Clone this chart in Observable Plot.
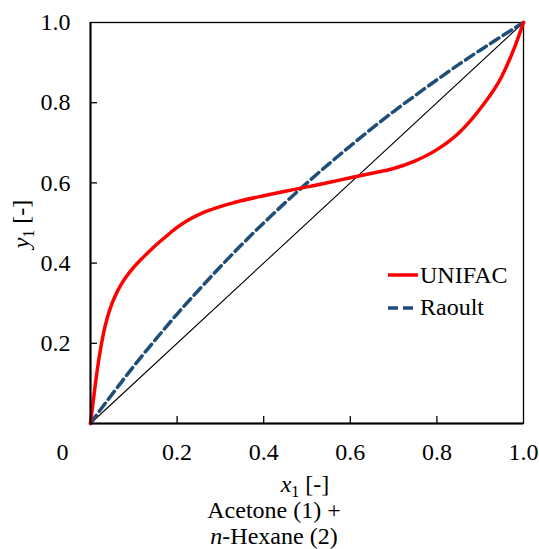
<!DOCTYPE html>
<html><head><meta charset="utf-8">
<script src="https://cdn.jsdelivr.net/npm/d3@7"></script>
<script src="https://cdn.jsdelivr.net/npm/@observablehq/plot@0.6"></script>
<style>
body{margin:0;background:#fff;}
#wrap{position:relative;width:539px;height:549px;}
</style></head><body><div id="wrap"></div>
<script>
const xTicks = [0.2, 0.4, 0.6, 0.8, 1.0];
const yTicks = [0.2, 0.4, 0.6, 0.8, 1.0];
const unifacX = [0,0.005,0.01,0.02,0.03,0.04,0.05,0.06,0.07,0.08,0.1,0.125,0.15,0.175,0.2,0.225,0.25,0.275,0.3,0.325,0.35,0.4,0.45,0.5,0.55,0.6,0.65,0.7,0.75,0.8,0.85,0.9,0.95,0.98,1];
const unifacY = [0,0.045,0.088,0.165,0.225,0.268,0.3,0.325,0.345,0.362,0.39,0.418,0.444,0.467,0.489,0.507,0.521,0.532,0.541,0.549,0.556,0.568,0.579,0.59,0.601,0.613,0.624,0.636,0.655,0.683,0.724,0.785,0.866,0.94,1];
const raoultX = [0,0.02,0.05,0.1,0.15,0.2,0.25,0.3,0.35,0.4,0.45,0.5,0.55,0.6,0.65,0.7,0.75,0.8,0.85,0.9,0.95,1];
const raoultY = [0,0.03,0.073,0.143,0.209,0.273,0.333,0.391,0.447,0.5,0.551,0.6,0.647,0.692,0.736,0.778,0.818,0.857,0.895,0.931,0.966,1];
const diagX = [0, 1];
const diagY = [0, 1];

const unifac = unifacX.map((x,i)=>({x, y: unifacY[i]}));
const raoult = raoultX.map((x,i)=>({x, y: raoultY[i]}));
const diag = diagX.map((x,i)=>({x, y: diagY[i]}));

const SERIF = "'Liberation Serif', 'DejaVu Serif', 'Times New Roman', serif";
const font = "24px";
const chart = Plot.plot({
  width: 539, height: 549,
  marginLeft: 90, marginRight: 16, marginTop: 22, marginBottom: 126,
  style: {fontSize: font, color: "#000", background: "#fff"},
  x: {domain: [0,1], label: null},
  y: {domain: [0,1], label: null},
  marks: [
    Plot.frame({stroke: "#000", strokeWidth: 1.3}),
    Plot.line(diag, {x: "x", y: "y", stroke: "#000", strokeWidth: 1.1}),
    Plot.line(raoult, {x: "x", y: "y", stroke: "#1f4e79", strokeWidth: 3.5, strokeDasharray: "10,5", curve: "monotone-x"}),
    Plot.line(unifac, {x: "x", y: "y", stroke: "#ff0000", strokeWidth: 3.5, curve: "monotone-x"}),
    Plot.ruleX([0], {stroke: "#000", strokeWidth: 2}),
    Plot.ruleY([0], {stroke: "#000", strokeWidth: 2}),
    Plot.axisX(xTicks.slice(0,4), {tickSize: -7, text: null, strokeWidth: 1.3, label: null}),
    Plot.axisY(yTicks.slice(0,4), {tickSize: -7, text: null, strokeWidth: 1.3, label: null}),
    Plot.axisX(xTicks, {tickSize: 0, tickPadding: 19, tickFormat: d => d.toFixed(1), label: null, fontSize: font}),
    Plot.axisX([0], {tickSize: 0, tickPadding: 19, tickFormat: d => "0", dx: -28, label: null, fontSize: font}),
    Plot.axisY(yTicks, {tickSize: 0, tickPadding: 20, tickFormat: d => d.toFixed(1), label: null, fontSize: font})
  ]
});
chart.style.fontFamily = SERIF;
document.getElementById("wrap").appendChild(chart);

const svg = d3.select(chart);
const g = svg.append("g").attr("font-size", 24).attr("fill", "#000").attr("text-anchor", "start");
// x axis title
const xt = g.append("text").attr("x", 305).attr("y", 492).attr("text-anchor", "middle");
xt.append("tspan").attr("font-style", "italic").text("x");
xt.append("tspan").attr("font-size", 16).attr("dy", 5).text("1");
xt.append("tspan").attr("dy", -5).text(" [-]");
g.append("text").attr("x", 274).attr("y", 518).attr("text-anchor", "middle").text("Acetone (1) +");
const nt = g.append("text").attr("x", 274).attr("y", 544).attr("text-anchor", "middle");
nt.append("tspan").attr("font-style", "italic").text("n");
nt.append("tspan").text("-Hexane (2)");
// y axis title
const yt = g.append("text").attr("transform", "translate(29,224) rotate(-90)").attr("text-anchor", "middle");
yt.append("tspan").attr("font-style", "italic").text("y");
yt.append("tspan").attr("font-size", 16).attr("dy", 5).text("1");
yt.append("tspan").attr("dy", -5).text(" [-]");
// legend
const lg = g.append("g");
lg.append("line").attr("x1", 388).attr("x2", 418).attr("y1", 275).attr("y2", 275).attr("stroke", "#ff0000").attr("stroke-width", 3.5);
lg.append("text").attr("x", 420).attr("y", 283).attr("text-anchor", "start").text("UNIFAC");
lg.append("line").attr("x1", 388).attr("x2", 418).attr("y1", 308).attr("y2", 308).attr("stroke", "#1f4e79").attr("stroke-width", 3.5).attr("stroke-dasharray", "10,5");
lg.append("text").attr("x", 420).attr("y", 315).attr("text-anchor", "start").text("Raoult");

// force serif font on every text element
svg.selectAll("text").attr("font-family", SERIF).each(function(){ this.style.setProperty("font-family", SERIF, "important"); });
</script></body></html>
